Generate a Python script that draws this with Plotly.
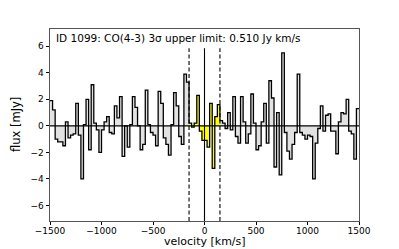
import plotly.graph_objects as go

# ---- data ----
chan_width = 25.0          # km/s
v_start = -1500.0          # left edge of first channel
flux = [
    1.9, 1.2, -1.0, -1.2, -1.2, -1.5, 0.3, -0.9, -0.7, -0.6,
    1.7, -0.7, -4.0, 0.1, 2.0, -1.8, 3.1, 0.2, -0.3, -2.0,
    -0.3, 0.3, 0.7, -0.5, -0.6, 1.5, 0.6, 2.2, -2.3, 0.0,
    -1.6, 0.1, 2.2, 1.4, 0.0, -1.8, -1.4, 2.7, 0.1, -0.5,
    -0.7, -1.5, 2.6, 1.7, -0.9, -1.4, -2.2, 0.1, 2.5, 1.5,
    -0.8, -1.4, 3.9, 3.3, 0.2, -0.1, 0.2, 2.3, -0.4, -1.1,
    -1.1, -1.6, 1.7, -3.2, 0.7, 1.6, 0.4, 0.2, -0.2, 1.0,
    -0.3, 2.2, -0.8, -1.3, 2.2, 0.3, -1.3, -0.6, 2.4, 0.2,
    -1.8, -1.5, 0.3, 1.7, -1.3, 3.4, 2.1, -3.1, 1.0, -3.7,
    5.5, -0.5, -1.9, -2.5, -1.4, -0.5, 3.9, -0.5, -0.7, -1.0,
    -0.7, -0.8, -4.0, -1.3, -0.2, 1.5, -0.4, 0.8, 0.9, -0.4,
    -0.4, -2.1, 0.3, 1.0, 0.9, 2.0, -0.4, -0.6, -2.5, 1.3,
]
line_window = [-150.0, 150.0]   # integration window (dashed lines)
line_center = [0.0]
title_text = "ID 1099: CO(4-3) 3\u03c3 upper limit: 0.510 Jy km/s"
x_label = "velocity [km/s]"
y_label = "flux [mJy]"
x_ticks = [-1500, -1000, -500, 0, 500, 1000, 1500]
y_ticks = [-6, -4, -2, 0, 2, 4, 6]
x_range = [-1500, 1500]
y_range = [-7.17, 7.3]

# ---- build step arrays ----
n = len(flux)
edges = [v_start + chan_width * i for i in range(n + 1)]
xs = edges[:-1] + [edges[-1]]
ys = flux + [flux[-1]]

# yellow segment inside the window
yx, yy = [], []
for i in range(n):
    c = edges[i] + chan_width / 2
    if line_window[0] < c < line_window[1]:
        yx.append(edges[i]); yy.append(flux[i])
        last = i
yx.append(edges[last + 1]); yy.append(flux[last])

fig = go.Figure()
fig.add_trace(go.Scatter(x=xs, y=ys, mode="lines", line=dict(shape="hv", width=0),
                         fill="tozeroy", fillcolor="#e2e2e2", hoverinfo="skip"))
fig.add_trace(go.Scatter(x=yx, y=yy, mode="lines", line=dict(shape="hv", width=0),
                         fill="tozeroy", fillcolor="#ffff00", hoverinfo="skip"))
fig.add_trace(go.Scatter(x=xs, y=ys, mode="lines", line=dict(shape="hv", width=1.3, color="black"),
                         hoverinfo="skip"))

shapes = [dict(type="line", xref="paper", x0=0, x1=1, yref="y", y0=0, y1=0,
               line=dict(color="black", width=1.1), layer="above")]
for v in line_center:
    shapes.append(dict(type="line", xref="x", x0=v, x1=v, yref="paper", y0=0, y1=0.9,
                       line=dict(color="black", width=1.1), layer="above"))
for v in line_window:
    shapes.append(dict(type="line", xref="x", x0=v, x1=v, yref="paper", y0=0, y1=0.9,
                       line=dict(color="black", width=1.1, dash="4px,2.5px"), layer="above"))

fig.update_layout(
    width=399, height=249,
    margin=dict(l=50, r=40, t=29, b=28, autoexpand=False),
    paper_bgcolor="white", plot_bgcolor="white",
    showlegend=False,
    font=dict(family="DejaVu Sans", color="black"),
    shapes=shapes,
    annotations=[
        dict(text=title_text, xref="paper", yref="paper", x=0.012, y=0.995,
             xanchor="left", yanchor="top", showarrow=False,
             font=dict(size=10.5, color="black", family="DejaVu Sans")),
        dict(text=x_label, xref="paper", yref="paper", x=0.5, y=-0.107,
             xanchor="center", yanchor="middle", showarrow=False, borderpad=0,
             font=dict(size=11, color="black", family="DejaVu Sans")),
        dict(text=y_label, xref="paper", yref="paper", x=-0.11, y=0.5, textangle=-90,
             xanchor="center", yanchor="middle", showarrow=False,
             font=dict(size=11.5, color="black", family="DejaVu Sans")),
    ],
)
fig.update_xaxes(range=x_range, tickvals=x_ticks, showgrid=False, zeroline=False, automargin=False,
                 ticks="outside", ticklen=3, tickwidth=0.8, tickcolor="black", ticklabelstandoff=-2,
                 showline=True, linecolor="#555555", linewidth=1, mirror=True,
                 tickfont=dict(size=9, color="black"))
fig.update_yaxes(range=y_range, tickvals=y_ticks, showgrid=False, zeroline=False, automargin=False,
                 ticks="outside", ticklen=3.5, tickwidth=0.8, tickcolor="black",
                 showline=True, linecolor="#555555", linewidth=1, mirror=True,
                 tickfont=dict(size=9, color="black"))

fig.write_html("out.html", config={"displayModeBar": False},
               post_script="document.body.style.margin='0';document.body.style.padding='0';"
                           "document.body.style.overflow='hidden';")
